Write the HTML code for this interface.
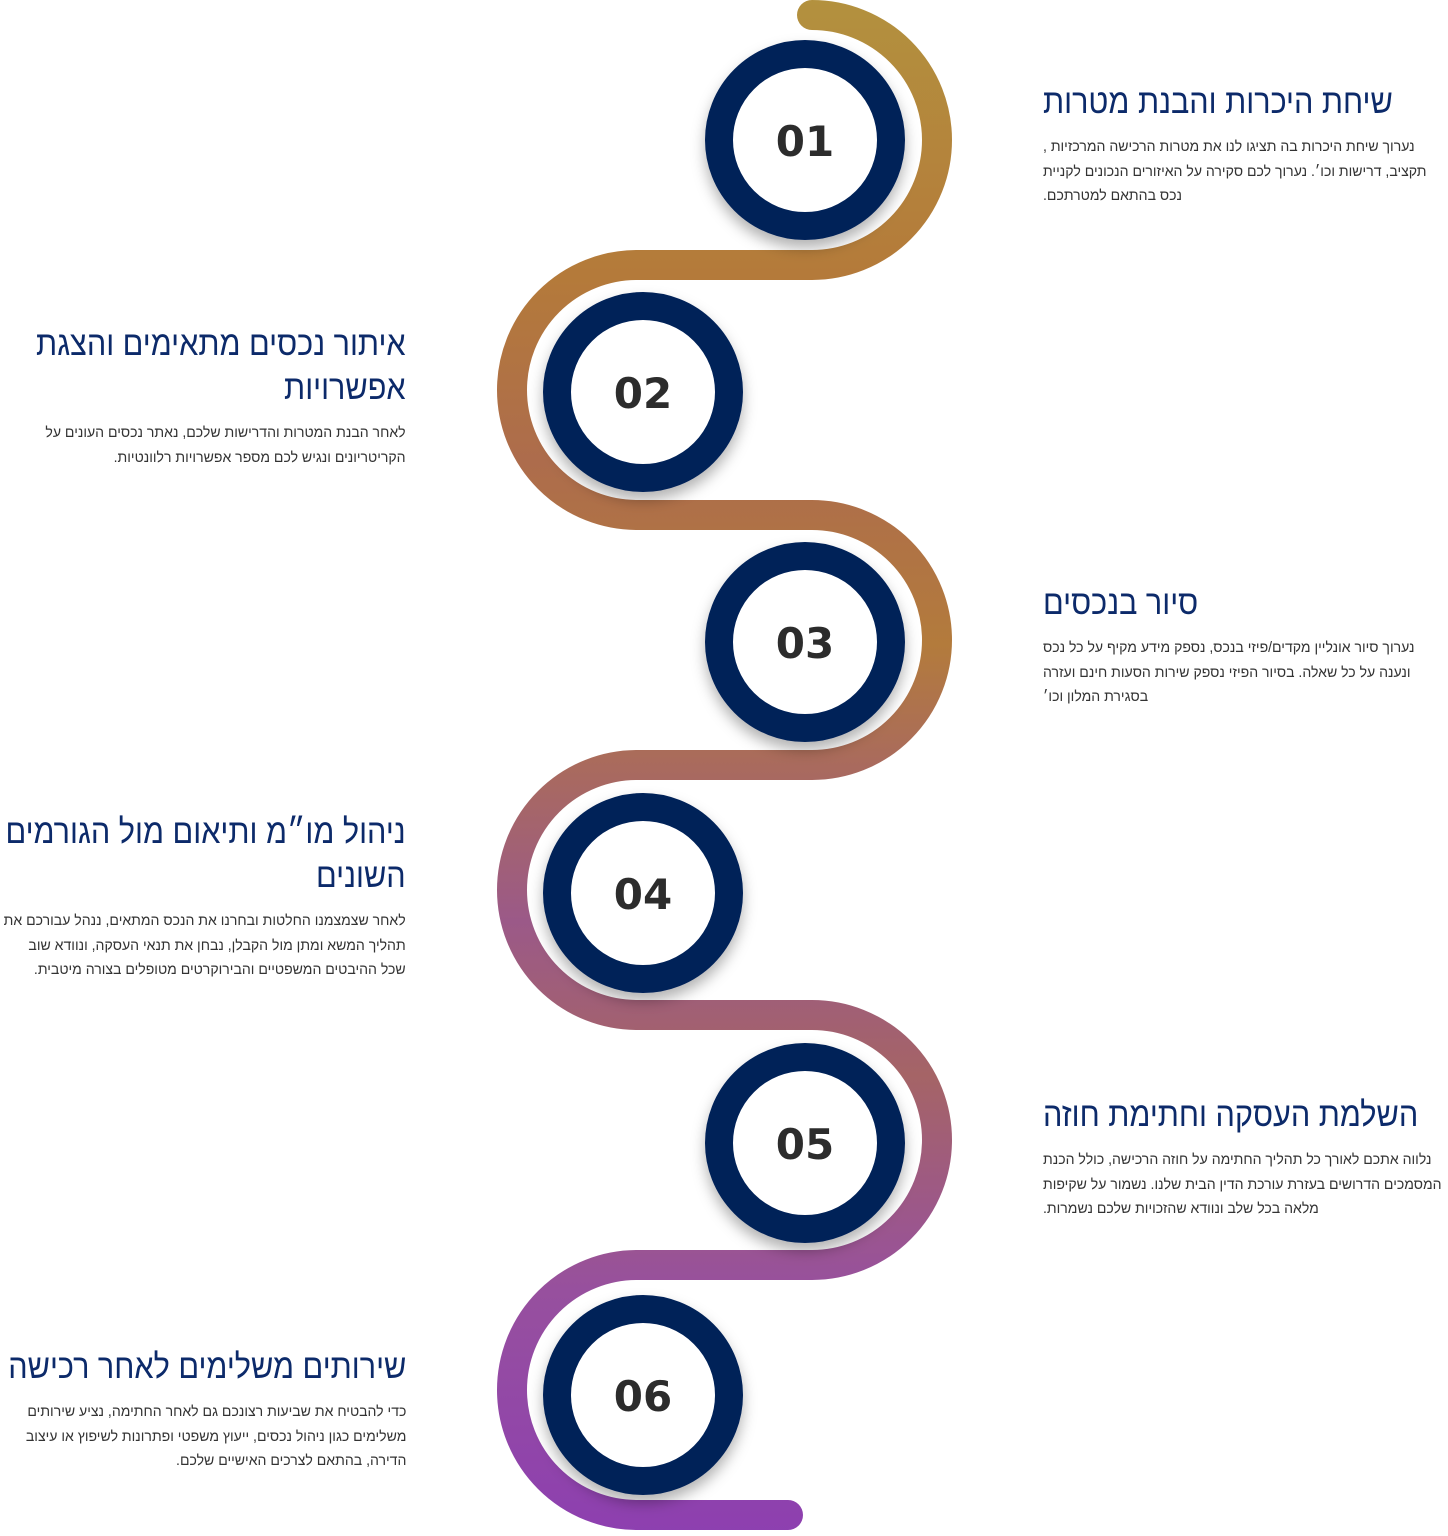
<!DOCTYPE html>
<html><head><meta charset="utf-8"><style>
body{margin:0;width:1448px;height:1536px;background:#fff;position:relative;overflow:hidden;font-family:"Liberation Sans","DejaVu Sans",sans-serif}
.t{position:absolute;direction:rtl;white-space:nowrap}
.r{left:1043px;text-align:left}
.r .h,.r .b{transform-origin:left top}
.l{right:1042px;text-align:right}
.l .h,.l .b{transform-origin:right top}
.h{color:#0c2a6a;font-size:34px;line-height:44px;transform:scaleX(0.9)}
.b{color:#333;font-size:14.5px;line-height:24.5px;margin-top:11px;transform:scaleX(0.97)}
.n{font-family:"DejaVu Sans","Liberation Sans",sans-serif;font-weight:bold;font-size:42px;fill:#2c2c2c}
</style></head><body>
<svg width="1448" height="1536" style="position:absolute;left:0;top:0">
<defs>
<linearGradient id="g" gradientUnits="userSpaceOnUse" x1="0" y1="0" x2="0" y2="1536">
<stop offset="0" stop-color="#b3913e"/>
<stop offset="0.18" stop-color="#b47a3a"/>
<stop offset="0.3" stop-color="#ad6c4c"/>
<stop offset="0.42" stop-color="#b37b3c"/>
<stop offset="0.5" stop-color="#a96a5e"/>
<stop offset="0.6" stop-color="#9b5988"/>
<stop offset="0.7" stop-color="#a56466"/>
<stop offset="0.84" stop-color="#97509e"/>
<stop offset="1" stop-color="#8d3fb0"/>
</linearGradient>
<filter id="s" x="-30%" y="-30%" width="160%" height="170%"><feDropShadow dx="0" dy="8" stdDeviation="7" flood-color="#000" flood-opacity="0.3"/></filter>
</defs>
<path d="M812 15 A125 125 0 0 1 812 265 L637 265 A125 125 0 0 0 637 515 L812 515 A125 125 0 0 1 812 765 L637 765 A125 125 0 0 0 637 1015 L812 1015 A125 125 0 0 1 812 1265 L637 1265 A125 125 0 0 0 637 1515 L788 1515" fill="none" stroke="url(#g)" stroke-width="30" stroke-linecap="round"/>
<g filter="url(#s)">
<circle cx="805" cy="140" r="86" fill="#fff" stroke="#012158" stroke-width="28"/>
<circle cx="643" cy="392" r="86" fill="#fff" stroke="#012158" stroke-width="28"/>
<circle cx="805" cy="642" r="86" fill="#fff" stroke="#012158" stroke-width="28"/>
<circle cx="643" cy="893" r="86" fill="#fff" stroke="#012158" stroke-width="28"/>
<circle cx="805" cy="1143" r="86" fill="#fff" stroke="#012158" stroke-width="28"/>
<circle cx="643" cy="1395" r="86" fill="#fff" stroke="#012158" stroke-width="28"/>
</g>
<g text-anchor="middle">
<text x="805" y="156" class="n">01</text>
<text x="643" y="408" class="n">02</text>
<text x="805" y="658" class="n">03</text>
<text x="643" y="909" class="n">04</text>
<text x="805" y="1159" class="n">05</text>
<text x="643" y="1411" class="n">06</text>
</g>
</svg>

<div class="t r" style="top:80px"><div class="h">שיחת היכרות והבנת מטרות</div><div class="b">נערוך שיחת היכרות בה תציגו לנו את מטרות הרכישה המרכזיות ,<br>תקציב, דרישות וכו׳. נערוך לכם סקירה על האיזורים הנכונים לקניית<br>נכס בהתאם למטרתכם.</div></div>

<div class="t l" style="top:322px"><div class="h">איתור נכסים מתאימים והצגת<br>אפשרויות</div><div class="b">לאחר הבנת המטרות והדרישות שלכם, נאתר נכסים העונים על<br>הקריטריונים ונגיש לכם מספר אפשרויות רלוונטיות.</div></div>

<div class="t r" style="top:581px"><div class="h">סיור בנכסים</div><div class="b">נערוך סיור אונליין מקדים/פיזי בנכס, נספק מידע מקיף על כל נכס<br>ונענה על כל שאלה. בסיור הפיזי נספק שירות הסעות חינם ועזרה<br>בסגירת המלון וכו׳</div></div>

<div class="t l" style="top:810px"><div class="h">ניהול מו״מ ותיאום מול הגורמים<br>השונים</div><div class="b">לאחר שצמצמנו החלטות ובחרנו את הנכס המתאים, ננהל עבורכם את<br>תהליך המשא ומתן מול הקבלן, נבחן את תנאי העסקה, ונוודא שוב<br>שכל ההיבטים המשפטיים והבירוקרטים מטופלים בצורה מיטבית.</div></div>

<div class="t r" style="top:1093px"><div class="h">השלמת העסקה וחתימת חוזה</div><div class="b">נלווה אתכם לאורך כל תהליך החתימה על חוזה הרכישה, כולל הכנת<br>המסמכים הדרושים בעזרת עורכת הדין הבית שלנו. נשמור על שקיפות<br>מלאה בכל שלב ונוודא שהזכויות שלכם נשמרות.</div></div>

<div class="t l" style="top:1345px"><div class="h">שירותים משלימים לאחר רכישה</div><div class="b">כדי להבטיח את שביעות רצונכם גם לאחר החתימה, נציע שירותים<br>משלימים כגון ניהול נכסים, ייעוץ משפטי ופתרונות לשיפוץ או עיצוב<br>הדירה, בהתאם לצרכים האישיים שלכם.</div></div>
</body></html>
